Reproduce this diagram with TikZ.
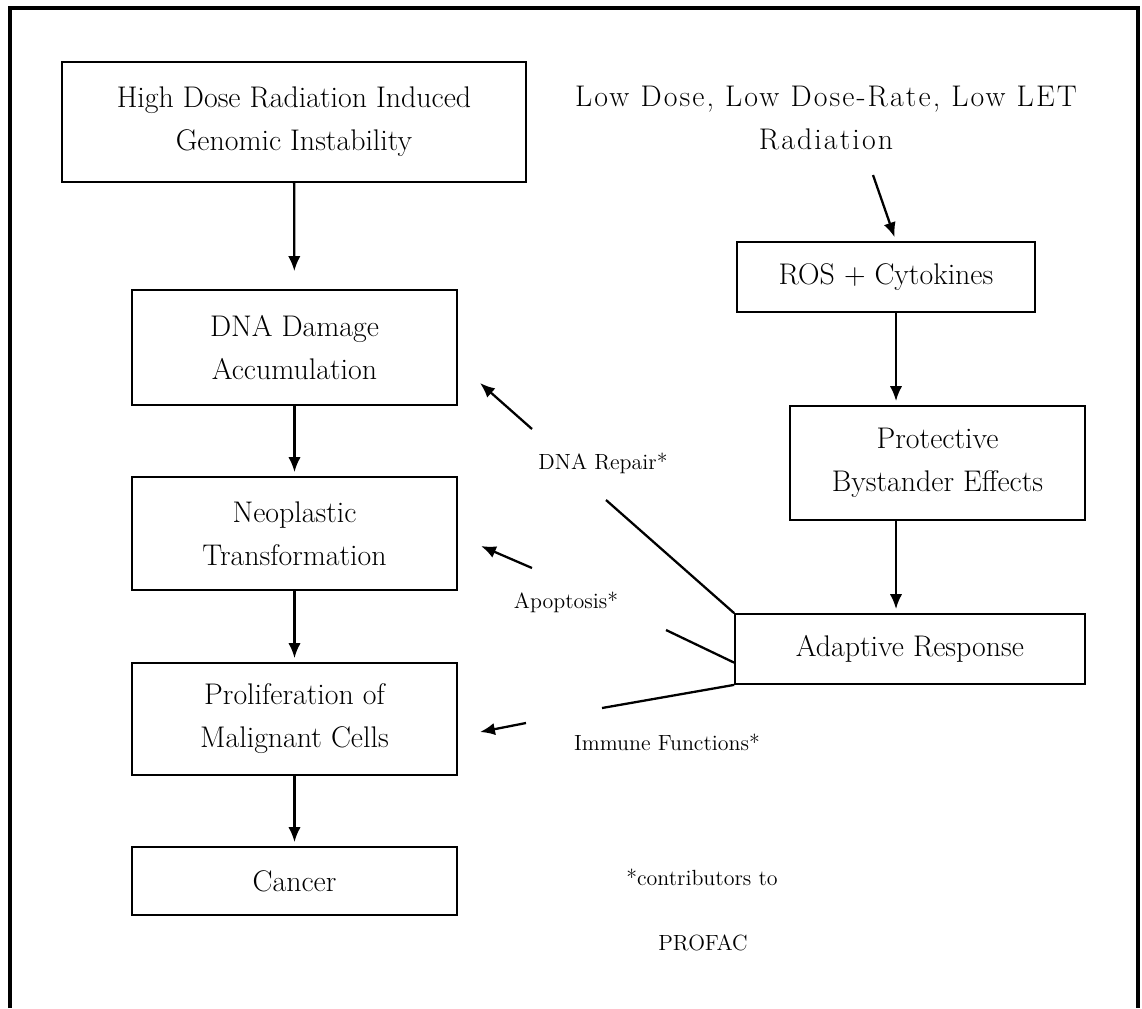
\documentclass[tikz,border=0pt]{standalone}
\usepackage{fontspec}
\usepackage{tikz}
\usetikzlibrary{arrows.meta,positioning,calc}
\newfontfamily\lowfont{lmroman17-regular.otf}[LetterSpace=7]
\tikzset{
    block/.style={rectangle, draw, line width=1pt, text centered, align=center, inner sep=0pt, font=\fontsize{17}{24.5}\selectfont},
    line/.style={draw, line width=1.3pt, -{Latex[length=8.5pt,width=7pt]}, shorten >=0.08cm},
    stub/.style={draw, line width=1.3pt},
    tag/.style={inner sep=0pt, font=\fontsize{12.5}{15}\selectfont}
}

\begin{document}
\begin{tikzpicture}[x=0.02cm, y=-0.02cm]
    \useasboundingbox (0,0) rectangle (1142,1008);
    % outer frame, open at the bottom
    \draw[line width=2pt] (10,1008) |- (1138,8) -- (1138,1008);

    % High dose pathway
    \node [block, minimum width=9.28cm, minimum height=2.4cm] (hd) at (294,122) {High Dose Radiation Induced\\Genomic Instability};
    \node [block, minimum width=6.5cm, minimum height=2.3cm] (dna) at (294.5,347.5) {DNA Damage\\Accumulation};
    \node [block, minimum width=6.5cm, minimum height=2.26cm] (neo) at (294.5,533.5) {Neoplastic\\Transformation};
    \node [block, minimum width=6.5cm, minimum height=2.24cm] (pro) at (294.5,719) {Proliferation of\\Malignant Cells};
    \node [block, minimum width=6.5cm, minimum height=1.36cm] (can) at (294.5,881) {Cancer};

    % Low dose pathway
    \node [align=center, inner sep=0pt, font=\lowfont\fontsize{17}{24.5}\selectfont] (low) at (826,118) {Low Dose, Low Dose-Rate, Low LET\\Radiation};
    \node [block, minimum width=5.96cm, minimum height=1.4cm] (ros) at (886,277) {ROS + Cytokines};
    \node [block, minimum width=5.9cm, minimum height=2.28cm] (pbe) at (937.5,463) {Protective\\Bystander Effects};
    \node [block, minimum width=7cm, minimum height=1.4cm] (ada) at (910,649) {Adaptive Response};

    % PROFAC labels
    \node [tag] (rep) at (603,463) {DNA Repair*};
    \node [tag] (apo) at (566,602) {Apoptosis*};
    \node [tag] (imm) at (667,742) {Immune Functions*};
    \node [tag] (con) at (702,877) {*contributors to};
    \node [tag] (prof) at (703,943) {PROFAC};

    % free ends
    \coordinate (col) at (896,0);
    \coordinate (lowtail) at (873,175);
    \coordinate (reptail) at (532,429);
    \coordinate (reptip) at (480,383);
    \coordinate (repstub) at (606,500);
    \coordinate (apotail) at (532,568);
    \coordinate (apotip) at (481,546);
    \coordinate (apostub) at (666,630);
    \coordinate (immtail) at (526,723);
    \coordinate (immtip) at (480,732);
    \coordinate (immstub) at (602,708);

    % Connections
    \path [line, shorten >=0.36cm] (hd) -- (dna);
    \path [line] (dna) -- (neo);
    \path [line] (neo) -- (pro);
    \path [line] (pro) -- (can);
    \path [line] (lowtail) -- (ros.north -| col);
    \path [line] (ros.south -| col) -- (pbe.north -| col);
    \path [line] (pbe.south -| col) -- (ada.north -| col);

    \path [stub] (repstub) -- (ada.north west);
    \path [stub] (apostub) -- ($(ada.north west)!0.69!(ada.south west)$);
    \path [stub] (immstub) -- (ada.south west);
    \path [line, shorten >=0pt] (reptail) -- (reptip);
    \path [line, shorten >=0pt] (apotail) -- (apotip);
    \path [line, shorten >=0pt] (immtail) -- (immtip);
\end{tikzpicture}
\end{document}
